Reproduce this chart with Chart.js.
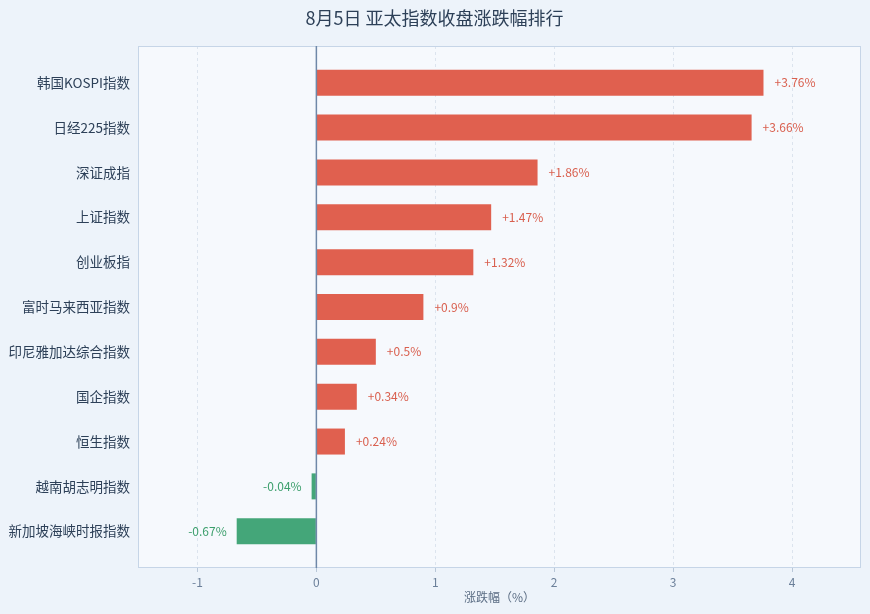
<!DOCTYPE html>
<html>
<head>
<meta charset="utf-8">
<script src="https://cdn.jsdelivr.net/npm/chart.js@4.4.1/dist/chart.umd.min.js"></script>
<style>
  html, body { margin: 0; padding: 0; background: #edf3fa; }
  canvas { display: block; }
</style>
</head>
<body>
<canvas id="rankChart" width="870" height="614"></canvas>
<script>
const categories = ['韩国KOSPI指数', '日经225指数', '深证成指', '上证指数', '创业板指', '富时马来西亚指数', '印尼雅加达综合指数', '国企指数', '恒生指数', '越南胡志明指数', '新加坡海峡时报指数'];
const changes = [3.76, 3.66, 1.86, 1.47, 1.32, 0.9, 0.5, 0.34, 0.24, -0.04, -0.67];
const xTicks = [-1, 0, 1, 2, 3, 4];

const FONT = "'Noto Sans CJK SC', 'Noto Sans', sans-serif";
const UP = '#e0604f';
const DOWN = '#44a679';

// plot background, frame and zero line
const framePlugin = {
  id: 'frame',
  beforeDraw(chart) {
    const { ctx, chartArea: a } = chart;
    ctx.save();
    ctx.fillStyle = '#f6f9fd';
    ctx.fillRect(a.left, a.top, a.right - a.left, a.bottom - a.top);
    ctx.restore();
  },
  afterDatasetsDraw(chart) {
    const { ctx, chartArea: a } = chart;
    const x0 = chart.scales.x.getPixelForValue(0);
    ctx.save();
    ctx.strokeStyle = '#c6d5e7';
    ctx.lineWidth = 1;
    ctx.strokeRect(a.left + 0.5, a.top + 0.5, a.right - a.left - 1, a.bottom - a.top - 1);
    ctx.strokeStyle = '#6f88a8';
    ctx.lineWidth = 1.5;
    ctx.beginPath();
    ctx.moveTo(x0, a.top);
    ctx.lineTo(x0, a.bottom);
    ctx.stroke();
    ctx.restore();
  }
};

// value labels at bar ends
const valueLabels = {
  id: 'valueLabels',
  afterDatasetsDraw(chart) {
    const { ctx } = chart;
    const meta = chart.getDatasetMeta(0);
    ctx.save();
    ctx.font = '12px ' + FONT;
    ctx.textBaseline = 'middle';
    meta.data.forEach((bar, i) => {
      const v = changes[i];
      if (v >= 0) {
        ctx.fillStyle = '#d9604f';
        ctx.textAlign = 'left';
        ctx.fillText('+' + v + '%', bar.x + 11, bar.y);
      } else {
        ctx.fillStyle = '#3c9f6c';
        ctx.textAlign = 'right';
        ctx.fillText(v + '%', bar.x - 10, bar.y);
      }
    });
    ctx.restore();
  }
};

new Chart(document.getElementById('rankChart'), {
  type: 'bar',
  data: {
    datasets: [{
      data: changes.map((v, i) => ({ x: v, y: i })),
      backgroundColor: changes.map(v => v >= 0 ? UP : DOWN),
      borderWidth: 0,
      categoryPercentage: 1,
      barPercentage: 0.58
    }]
  },
  options: {
    indexAxis: 'y',
    responsive: false,
    animation: false,
    layout: { padding: { left: 8, right: 9, top: 0, bottom: 0 } },
    plugins: {
      legend: { display: false },
      tooltip: { enabled: false },
      title: {
        display: true,
        text: '8月5日 亚太指数收盘涨跌幅排行',
        color: '#2d4058',
        font: { family: FONT, size: 18, weight: 'normal' },
        padding: { top: 7, bottom: 17.4 }
      }
    },
    scales: {
      x: {
        type: 'linear',
        bounds: 'data',
        min: -1.5,
        max: 4.58,
        afterBuildTicks(axis) {
          axis.ticks = xTicks.map(v => ({ value: v }));
        },
        afterFit(axis) { axis.height = 46; },
        grid: {
          color: '#dce4ee',
          tickColor: '#b9c7d8',
          tickLength: 4
        },
        border: { display: false, dash: [3, 3] },
        ticks: {
          color: '#6b7f99',
          font: { family: FONT, size: 12 },
          padding: 3
        },
        title: {
          display: true,
          text: '涨跌幅（%）',
          color: '#5b6d84',
          font: { family: FONT, size: 12 },
          padding: { top: 2, bottom: 9 }
        }
      },
      y: {
        type: 'linear',
        bounds: 'data',
        offset: false,
        reverse: true,
        min: -0.82,
        max: 10.82,
        afterBuildTicks(axis) {
          axis.ticks = categories.map((c, i) => ({ value: i }));
        },
        afterFit(axis) { axis.width = 130; },
        grid: { display: false, drawTicks: false, offset: false },
        border: { display: false },
        ticks: {
          color: '#2d4058',
          font: { family: FONT, size: 13.5 },
          padding: 8,
          callback: v => categories[v]
        }
      }
    }
  },
  plugins: [framePlugin, valueLabels]
});
</script>
</body>
</html>
